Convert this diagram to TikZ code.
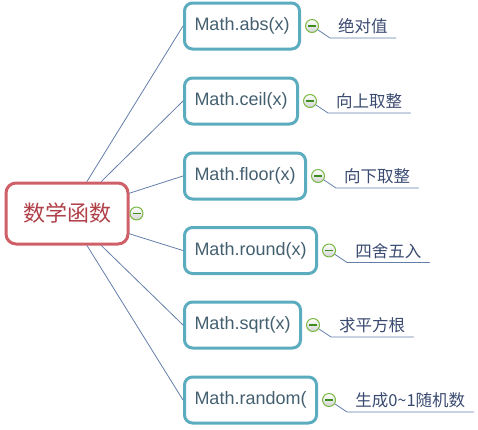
\documentclass[tikz,border=0pt]{standalone}
\usepackage{fontspec}
\setmainfont{Liberation Sans}
\newfontfamily\cjk{Noto Sans CJK SC}
\usetikzlibrary{positioning}
\definecolor{rootred}{RGB}{208,96,104}
\definecolor{roottext}{RGB}{176,64,72}
\definecolor{boxteal}{RGB}{92,172,192}
\definecolor{boxtext}{RGB}{68,96,112}
\definecolor{linkblue}{RGB}{100,126,170}
\definecolor{lbltext}{RGB}{58,74,112}
\definecolor{btngreen}{RGB}{120,184,64}
\definecolor{bargreen}{RGB}{60,140,30}
\begin{document}
\begin{tikzpicture}[x=1pt,y=-1pt,line join=round,line cap=round,
  rootbox/.style={draw=rootred,line width=3pt,rounded corners=10pt,fill=white,
    minimum width=122pt,minimum height=61pt,text=roottext,font=\cjk\fontsize{22}{24}\selectfont},
  funcbox/.style={draw=boxteal,line width=3pt,rounded corners=8pt,fill=white,
    minimum height=46pt,inner xsep=10pt,text=boxtext,font=\fontsize{18}{20}\selectfont},
  btn/.style={circle,draw=btngreen,line width=1pt,inner sep=0pt,minimum size=13pt,
    top color=white,bottom color=gray!35,
    path picture={\draw[bargreen,line width=1.4pt,line cap=butt]
      ([xshift=-4pt]path picture bounding box.center) -- ([xshift=4pt]path picture bounding box.center);}},
  lbl/.style={inner xsep=8pt,inner ysep=4pt,text=lbltext,font=\cjk\fontsize{16.5}{18}\selectfont},
  link/.style={draw=linkblue,line width=0.8pt}]
\useasboundingbox (0,0) rectangle (478,429);
% root topic
\node[rootbox] (root) at (67,213.5) {数学函数};
\node[btn,right=0pt of root] (root-b) {};
% sub topics
\foreach \n/\y/\a/\f/\t in {abs/26/58/{Math.abs(x)}/绝对值,
    ceil/101/43.6/{Math.ceil(x)}/向上取整,
    floor/176/18.6/{Math.floor(x)}/向下取整,
    round/250.5/-18.6/{Math.round(x)}/四舍五入,
    sqrt/325/-43.6/{Math.sqrt(x)}/求平方根,
    random/400/-58/{Math.random(}/生成0\textasciitilde1随机数}{
  \node[funcbox,anchor=west] (\n) at (183,\y) {\f};
  \node[btn,right=4pt of \n] (\n-b) {};
  \coordinate (\n-u) at ([shift={(18pt,-12pt)}]\n-b.center);
  \node[lbl,anchor=south west] (\n-l) at (\n-u) {\t};
  \draw[link] (root.\a) -- (\n.west);
  \draw[link] (\n-b) -- (\n-u) -- (\n-l.south east);
}
\end{tikzpicture}
\end{document}
